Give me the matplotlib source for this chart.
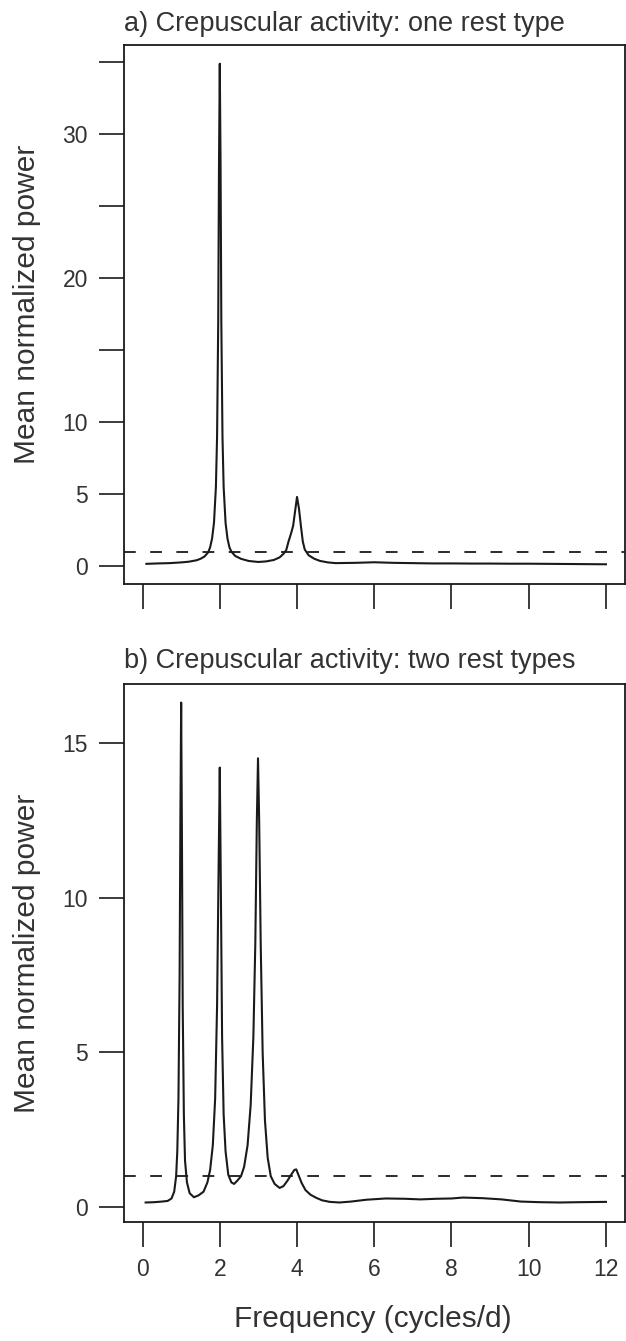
import matplotlib
matplotlib.use("Agg")
import matplotlib.pyplot as plt

# Mean normalized power spectra
# (frequency in cycles/d, power)

FREQ_A = [0.10, 0.40, 0.70, 1.00, 1.20, 1.40, 1.50, 1.60, 1.70, 1.75, 1.80,
          1.85, 1.90, 1.93, 1.96, 1.98, 2.00, 2.02, 2.04, 2.07, 2.10, 2.15,
          2.20, 2.25, 2.30, 2.40, 2.55, 2.75, 3.00, 3.20, 3.40, 3.55, 3.65,
          3.72, 3.78, 3.85, 3.90, 3.95, 4.00, 4.05, 4.10, 4.15, 4.20, 4.30,
          4.45, 4.60, 4.80, 5.00, 5.50, 6.00, 6.50, 7.00, 7.50, 8.00, 8.50,
          9.00, 9.50, 10.00, 10.50, 11.00, 11.50, 12.00]
POWER_A = [0.15, 0.18, 0.20, 0.25, 0.30, 0.40, 0.50, 0.65, 0.95, 1.30, 1.90,
           3.00, 5.50, 9.00, 17.0, 28.0, 34.9, 28.0, 17.0, 9.00, 5.50, 3.00,
           1.90, 1.30, 1.00, 0.70, 0.50, 0.35, 0.28, 0.32, 0.42, 0.60, 0.85,
           1.10, 1.70, 2.30, 2.80, 3.80, 4.80, 4.00, 2.80, 1.70, 1.15, 0.75,
           0.50, 0.35, 0.25, 0.20, 0.22, 0.26, 0.22, 0.20, 0.18, 0.18, 0.17,
           0.17, 0.16, 0.16, 0.15, 0.14, 0.13, 0.12]

FREQ_B = [0.08, 0.30, 0.50, 0.65, 0.75, 0.82, 0.87, 0.90, 0.93, 0.96, 0.98,
          1.00, 1.02, 1.04, 1.07, 1.10, 1.15, 1.22, 1.33, 1.45, 1.58, 1.68,
          1.75, 1.82, 1.88, 1.93, 1.97, 2.00, 2.03, 2.06, 2.10, 2.15, 2.22,
          2.30, 2.37, 2.45, 2.55, 2.63, 2.72, 2.80, 2.87, 2.92, 2.96, 2.99,
          3.02, 3.06, 3.11, 3.17, 3.24, 3.32, 3.42, 3.55, 3.65, 3.75, 3.85,
          3.93, 3.98, 4.05, 4.12, 4.22, 4.35, 4.50, 4.65, 4.85, 5.10, 5.40,
          5.80, 6.30, 6.80, 7.20, 7.60, 8.00, 8.30, 8.80, 9.30, 9.80, 10.30,
          10.80, 11.30, 12.00]
POWER_B = [0.15, 0.16, 0.18, 0.20, 0.28, 0.50, 1.00, 1.80, 3.50, 7.50, 12.5,
           16.3, 12.0, 6.50, 3.00, 1.50, 0.80, 0.45, 0.32, 0.38, 0.50, 0.80,
           1.20, 2.00, 3.50, 6.50, 11.0, 14.2, 10.0, 5.50, 3.00, 1.80, 1.05,
           0.80, 0.75, 0.85, 1.00, 1.30, 2.00, 3.30, 5.50, 8.50, 12.5, 14.5,
           12.5, 8.50, 5.00, 2.80, 1.60, 1.00, 0.75, 0.62, 0.68, 0.85, 1.05,
           1.20, 1.22, 1.00, 0.78, 0.55, 0.40, 0.30, 0.22, 0.17, 0.15, 0.18,
           0.24, 0.28, 0.27, 0.25, 0.27, 0.28, 0.31, 0.29, 0.25, 0.18, 0.16,
           0.15, 0.16, 0.17]

THRESHOLD = 1.0  # dashed reference line

X_TICKS = [0, 2, 4, 6, 8, 10, 12]
Y_TICKS_A = [0, 5, 10, 15, 20, 25, 30, 35]
Y_LABELS_A = ["0", "5", "10", "", "20", "", "30", ""]
Y_TICKS_B = [0, 5, 10, 15]

TITLE_A = "a) Crepuscular activity: one rest type"
TITLE_B = "b) Crepuscular activity: two rest types"
YLABEL = "Mean normalized power"
XLABEL = "Frequency (cycles/d)"

W, H = 626, 1341
INK = "#1a1a1a"
TXT = "#333333"

plt.rcParams["font.family"] = ["Liberation Sans", "DejaVu Sans"]

fig = plt.figure(figsize=(W / 100, H / 100), dpi=100)


def px_axes(left, top, right, bottom):
    """axes from pixel box edges"""
    return fig.add_axes([left / W, 1 - bottom / H, (right - left) / W, (bottom - top) / H])


def draw_panel(ax, freq, power, yticks, ylabels, ylim, show_xlabels):
    ax.plot(freq, power, color=INK, lw=1.5, solid_joinstyle="round")
    ax.axhline(THRESHOLD, color=INK, lw=1.3, dashes=(6.5, 8))
    ax.set_xlim(-0.48, 12.48)
    ax.set_ylim(*ylim)
    ax.set_xticks(X_TICKS)
    ax.set_xticklabels([str(t) for t in X_TICKS] if show_xlabels else [])
    ax.set_yticks(yticks)
    ax.set_yticklabels(ylabels)
    ax.tick_params(direction="out", length=18, width=1.2, colors=INK,
                   labelsize=16.5, pad=8, labelcolor=TXT)
    for s in ax.spines.values():
        s.set_linewidth(1.3)
        s.set_color(INK)


ax_a = px_axes(124, 45, 624.5, 584)
draw_panel(ax_a, FREQ_A, POWER_A, Y_TICKS_A, Y_LABELS_A, (-1.25, 36.2), False)

ax_b = px_axes(124, 684, 624.5, 1222)
draw_panel(ax_b, FREQ_B, POWER_B, Y_TICKS_B, [str(t) for t in Y_TICKS_B],
           (-0.48, 16.9), True)

# titles, left aligned with the box
fig.text(124 / W, 1 - 31 / H, TITLE_A, fontsize=19.5, color=TXT,
         ha="left", va="baseline")
fig.text(124 / W, 1 - 668 / H, TITLE_B, fontsize=19.5, color=TXT,
         ha="left", va="baseline")

# y labels roughly centred on each box, x label under the bottom one
fig.text(27 / W, 1 - 304 / H, YLABEL, fontsize=21.5, color=TXT,
         rotation=90, ha="center", va="center")
fig.text(27 / W, 1 - 953 / H, YLABEL, fontsize=21.5, color=TXT,
         rotation=90, ha="center", va="center")
fig.text(373 / W, 1 - 1327 / H, XLABEL, fontsize=21.5, color=TXT,
         ha="center", va="baseline")

fig.savefig("out.png", dpi=100)
